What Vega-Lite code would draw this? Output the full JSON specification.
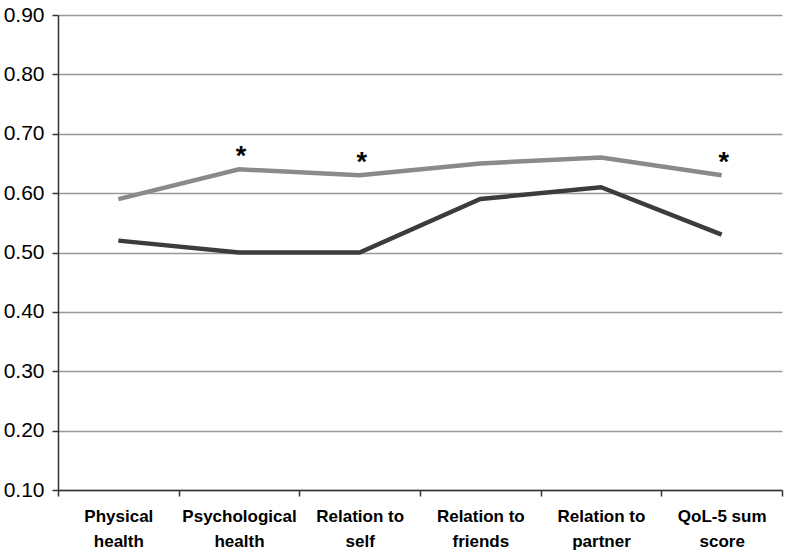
{
  "$schema": "https://vega.github.io/schema/vega-lite/v6.json",
  "autosize": "none",
  "width": 724,
  "height": 475,
  "padding": {"left": 58, "top": 15, "right": 4, "bottom": 63},
  "background": "white",
  "config": {"view": {"stroke": null}},
  "data": {"values": [
    {"cat": "Physical health", "grp": "light", "score": 0.59, "star": ""},
    {"cat": "Psychological health", "grp": "light", "score": 0.64, "star": "*"},
    {"cat": "Relation to self", "grp": "light", "score": 0.63, "star": "*"},
    {"cat": "Relation to friends", "grp": "light", "score": 0.65, "star": ""},
    {"cat": "Relation to partner", "grp": "light", "score": 0.66, "star": ""},
    {"cat": "QoL-5 sum score", "grp": "light", "score": 0.63, "star": "*"},
    {"cat": "Physical health", "grp": "dark", "score": 0.52, "star": ""},
    {"cat": "Psychological health", "grp": "dark", "score": 0.50, "star": ""},
    {"cat": "Relation to self", "grp": "dark", "score": 0.50, "star": ""},
    {"cat": "Relation to friends", "grp": "dark", "score": 0.59, "star": ""},
    {"cat": "Relation to partner", "grp": "dark", "score": 0.61, "star": ""},
    {"cat": "QoL-5 sum score", "grp": "dark", "score": 0.53, "star": ""}
  ]},
  "encoding": {
    "x": {
      "field": "cat", "type": "nominal",
      "sort": ["Physical health", "Psychological health", "Relation to self", "Relation to friends", "Relation to partner", "QoL-5 sum score"],
      "scale": {"type": "band", "paddingInner": 0, "paddingOuter": 0},
      "axis": {
        "title": null, "labelAngle": 0, "tickBand": "extent", "orient": "bottom",
        "labelExpr": "isString(datum.value) ? [slice(datum.value, 0, lastindexof(datum.value, ' ')), slice(datum.value, lastindexof(datum.value, ' ') + 1)] : ''",
        "labelFont": "Liberation Sans", "labelFontWeight": "bold", "labelFontSize": 17,
        "labelColor": "#000", "labelLineHeight": 25, "labelPadding": 12,
        "domainColor": "#333", "domainWidth": 1.5, "tickColor": "#333", "tickWidth": 1.5, "tickSize": 6
      }
    },
    "y": {
      "field": "score", "type": "quantitative",
      "scale": {"domain": [0.1, 0.9], "nice": false, "zero": false},
      "axis": {
        "title": null, "values": [0.1, 0.2, 0.3, 0.4, 0.5, 0.6, 0.7, 0.8, 0.9], "format": ".2f",
        "labelFont": "Liberation Sans", "labelFontSize": 21, "labelColor": "#000", "labelPadding": 8,
        "grid": true, "gridColor": "#999", "gridWidth": 1.5,
        "domainColor": "#333", "domainWidth": 1.5, "tickColor": "#333", "tickWidth": 1.5, "tickSize": 6
      }
    }
  },
  "layer": [
    {
      "mark": {"type": "line", "strokeWidth": 4.5},
      "encoding": {
        "color": {"field": "grp", "type": "nominal", "scale": {"domain": ["light", "dark"], "range": ["#8a8a8a", "#3c3c3c"]}, "legend": null}
      }
    },
    {
      "transform": [{"filter": "datum.star != ''"}],
      "mark": {"type": "text", "dy": -12, "dx": 2, "font": "Liberation Sans", "fontSize": 27, "fontWeight": "bold", "color": "#000", "baseline": "middle"},
      "encoding": {"text": {"field": "star"}}
    }
  ]
}
